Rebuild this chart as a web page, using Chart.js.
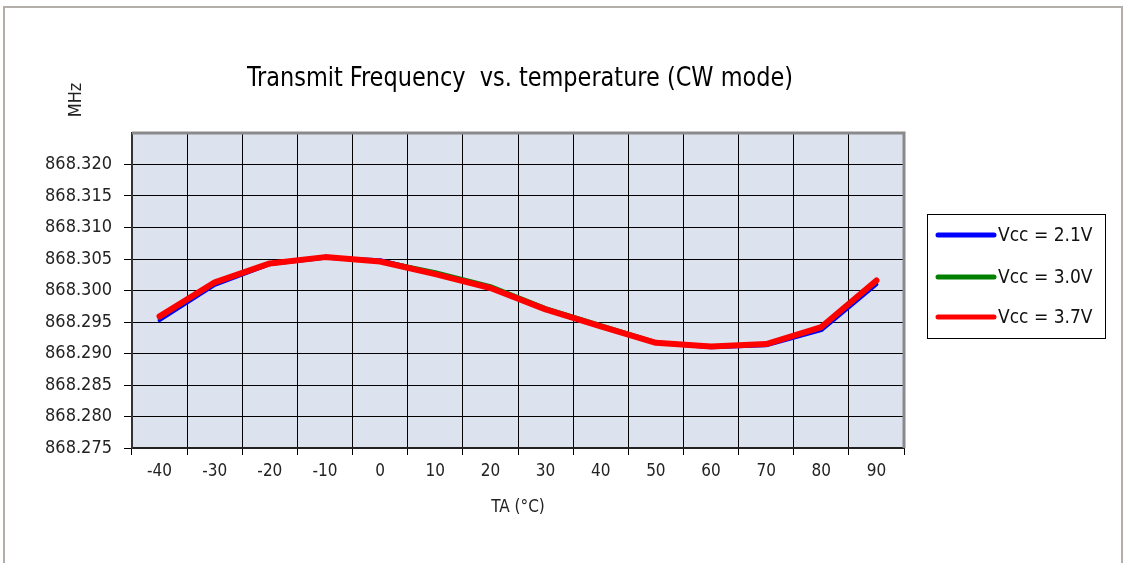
<!DOCTYPE html>
<html>
<head>
<meta charset="utf-8">
<script src="https://cdn.jsdelivr.net/npm/chart.js@4.4.1/dist/chart.umd.min.js"></script>
<style>
    html, body { margin: 0; padding: 0; background: #fff; }
    #wrap { position: relative; width: 1125px; height: 563px; overflow: hidden; }
    #frame { position: absolute; left: 3px; top: 6px; width: 1120px; height: 600px;
             border: 2px solid #b3afa8; box-sizing: border-box; }
    #chart { position: absolute; left: 0; top: 0; }
</style>
</head>
<body>
<div id="wrap">
    <div id="frame"></div>
    <canvas id="chart" width="1125" height="563"></canvas>
</div>
<script>
// ==========================================
// DATOS
// ==========================================
const tempLabels = ['-40', '-30', '-20', '-10', '0', '10', '20', '30', '40', '50', '60', '70', '80', '90'];

const vcc21 = [868.2953, 868.3009, 868.3042, 868.3052, 868.3048, 868.3027, 868.3004, 868.2971, 868.2943, 868.2917, 868.2910, 868.2913, 868.2937, 868.3010];
const vcc30 = [868.2957, 868.3012, 868.3043, 868.3053, 868.3047, 868.3029, 868.3007, 868.2972, 868.2945, 868.2918, 868.2911, 868.2915, 868.2941, 868.3014];
const vcc37 = [868.2959, 868.3013, 868.3043, 868.3053, 868.3046, 868.3026, 868.3004, 868.2970, 868.2943, 868.2917, 868.2911, 868.2915, 868.2942, 868.3016];

const seriesNames = ['Vcc = 2.1V', 'Vcc = 3.0V', 'Vcc = 3.7V'];
const yTickValues = [868.275, 868.280, 868.285, 868.290, 868.295, 868.300, 868.305, 868.310, 868.315, 868.320, 868.325];

const chartTitle = 'Transmit Frequency  vs. temperature (CW mode)';
const yUnit = 'MHz';
const xTitle = 'TA (°C)';

const FONT = "'Liberation Sans Narrow', 'DejaVu Sans Condensed', 'Liberation Sans', sans-serif";
const Y_TOP = yTickValues[yTickValues.length - 1];

// ==========================================
// PLUGIN: fondo, borde del area, titulo, leyenda
// ==========================================
const decorPlugin = {
    id: 'decor',
    beforeDraw(chart) {
        const { ctx, chartArea: a } = chart;
        ctx.save();
        ctx.fillStyle = '#dde3ee';
        ctx.fillRect(a.left, a.top, a.right - a.left, a.bottom - a.top);
        ctx.restore();
    },
    beforeDatasetsDraw(chart) {
        const { ctx, chartArea: a } = chart;
        ctx.save();
        ctx.strokeStyle = '#8a8a8a';
        ctx.lineWidth = 3;
        ctx.beginPath();
        ctx.moveTo(a.left, a.top);
        ctx.lineTo(a.right, a.top);
        ctx.lineTo(a.right, a.bottom);
        ctx.stroke();
        ctx.restore();
    },
    afterDraw(chart) {
        const ctx = chart.ctx;
        ctx.save();

        // titulo (ajustado al ancho del original)
        ctx.fillStyle = '#000';
        ctx.font = '26px ' + FONT;
        ctx.textAlign = 'center';
        ctx.textBaseline = 'alphabetic';
        const w = ctx.measureText(chartTitle).width;
        const sx = 546 / w;
        ctx.save();
        ctx.translate(520, 86);
        ctx.scale(sx, 1);
        ctx.fillText(chartTitle, 0, 0);
        ctx.restore();

        // unidad vertical
        ctx.save();
        ctx.font = '18px ' + FONT;
        ctx.fillStyle = '#222';
        ctx.translate(76, 100);
        ctx.rotate(-Math.PI / 2);
        ctx.textAlign = 'center';
        ctx.textBaseline = 'middle';
        ctx.fillText(yUnit, 0, 0);
        ctx.restore();

        // leyenda
        ctx.strokeStyle = '#000';
        ctx.lineWidth = 1;
        ctx.strokeRect(927.5, 214.5, 178, 124);
        const rows = [235, 277, 317];
        chart.data.datasets.forEach((ds, i) => {
            ctx.strokeStyle = ds.borderColor;
            ctx.lineWidth = 5;
            ctx.lineCap = 'round';
            ctx.beginPath();
            ctx.moveTo(938, rows[i]);
            ctx.lineTo(994, rows[i]);
            ctx.stroke();
            ctx.fillStyle = '#111';
            ctx.font = '19px ' + FONT;
            ctx.textAlign = 'left';
            ctx.textBaseline = 'middle';
            ctx.fillText(ds.label, 998, rows[i] + 1);
        });
        ctx.restore();
    }
};

const ctx = document.getElementById('chart').getContext('2d');
new Chart(ctx, {
    type: 'line',
    data: {
        labels: tempLabels,
        datasets: [
            { label: seriesNames[0], data: vcc21, borderColor: '#0000ff', borderWidth: 4, order: 3 },
            { label: seriesNames[1], data: vcc30, borderColor: '#008000', borderWidth: 4, order: 2 },
            { label: seriesNames[2], data: vcc37, borderColor: '#ff0000', borderWidth: 6, order: 1 }
        ]
    },
    options: {
        responsive: false,
        animation: false,
        devicePixelRatio: 1,
        layout: { padding: { left: 0, top: 133, right: 221, bottom: 0 } },
        elements: {
            point: { radius: 0 },
            line: { tension: 0, borderJoinStyle: 'round', borderCapStyle: 'round' }
        },
        plugins: {
            legend: { display: false },
            tooltip: { enabled: false },
            title: { display: false }
        },
        scales: {
            x: {
                type: 'category',
                offset: true,
                grid: {
                    offset: true,
                    color: '#000',
                    lineWidth: 1,
                    drawTicks: true,
                    tickLength: 7,
                    tickColor: '#000'
                },
                border: { color: '#222', width: 2 },
                ticks: {
                    color: '#222',
                    font: { family: FONT, size: 17 },
                    padding: 6,
                    maxRotation: 0,
                    autoSkip: false
                },
                title: {
                    display: true,
                    text: xTitle,
                    color: '#222',
                    font: { family: FONT, size: 17 },
                    padding: { top: 0, bottom: 45 }
                },
                afterFit: (scale) => { scale.height = 115; }
            },
            y: {
                type: 'linear',
                min: yTickValues[0],
                max: Y_TOP,
                afterBuildTicks: (scale) => {
                    scale.ticks = yTickValues.map(v => ({ value: v }));
                },
                grid: {
                    color: (c) => (c.tick && c.tick.value >= Y_TOP - 1e-9) ? 'rgba(0,0,0,0)' : '#000',
                    tickColor: (c) => (c.tick && c.tick.value >= Y_TOP - 1e-9) ? 'rgba(0,0,0,0)' : '#000',
                    lineWidth: 1,
                    drawTicks: true,
                    tickLength: 8
                },
                border: { color: '#333', width: 2 },
                ticks: {
                    color: '#222',
                    font: { family: FONT, size: 18 },
                    padding: 12,
                    callback: (v) => (v >= Y_TOP - 1e-9) ? '' : Number(v).toFixed(3)
                },
                afterFit: (scale) => { scale.width = 132; }
            }
        }
    },
    plugins: [decorPlugin]
});
</script>
</body>
</html>
